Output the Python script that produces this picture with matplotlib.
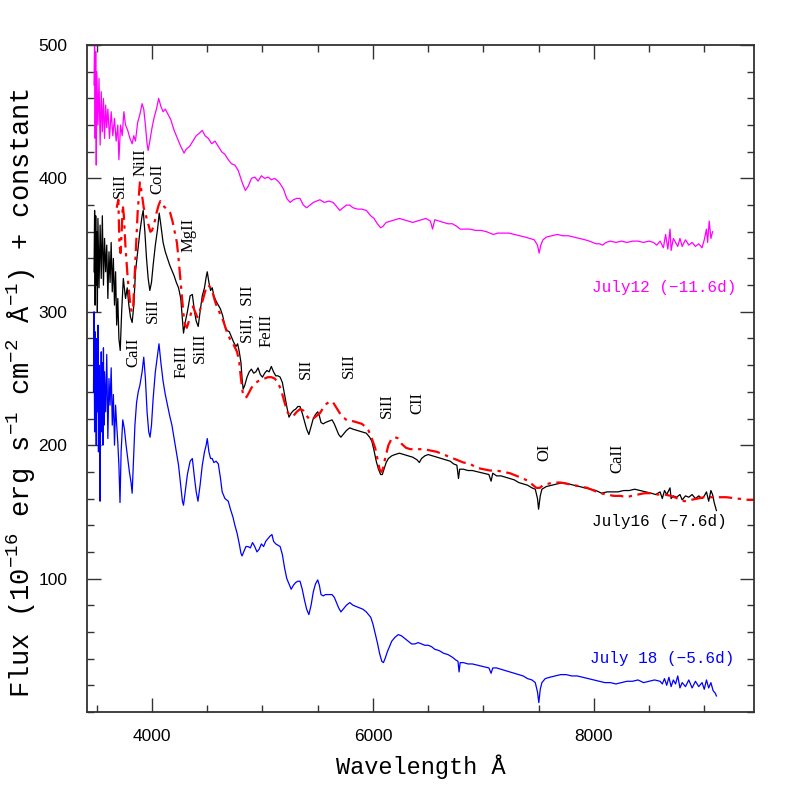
import numpy as np
import matplotlib.pyplot as plt
from matplotlib.ticker import MultipleLocator

# spectra: (wavelength in A, flux + constant)
jul12 = np.array([
    (3475, 470), (3480, 505), (3485, 430), (3490, 495), (3495, 410), (3500, 480),
    (3510, 440), (3520, 475), (3530, 425), (3540, 465), (3550, 435), (3560, 460),
    (3570, 430), (3580, 455), (3590, 438), (3600, 452), (3615, 430), (3630, 450),
    (3645, 432), (3660, 445), (3675, 428), (3690, 440), (3700, 414), (3715, 440),
    (3730, 432), (3745, 450), (3760, 440), (3780, 436), (3800, 430), (3820, 426),
    (3835, 432), (3850, 428), (3870, 442), (3890, 448), (3910, 456), (3925, 452),
    (3940, 440), (3955, 426), (3965, 421), (3980, 428), (4000, 438), (4020, 446),
    (4040, 452), (4060, 460), (4080, 454), (4100, 450), (4120, 452), (4145, 448),
    (4170, 444), (4200, 436), (4230, 430), (4260, 424), (4290, 419), (4310, 422),
    (4340, 424), (4370, 428), (4400, 432), (4430, 434), (4455, 436), (4480, 432),
    (4510, 430), (4540, 426), (4570, 428), (4600, 424), (4630, 420), (4660, 418),
    (4690, 414), (4720, 411), (4750, 410), (4780, 406), (4800, 401), (4820, 396),
    (4845, 391), (4870, 394), (4900, 400), (4930, 401), (4960, 398), (4990, 402),
    (5020, 400), (5050, 401), (5080, 399), (5110, 400), (5140, 398), (5160, 396),
    (5190, 392), (5220, 385), (5250, 382), (5280, 384), (5310, 385), (5340, 385),
    (5370, 380), (5400, 378), (5430, 380), (5460, 382), (5490, 383), (5520, 384),
    (5560, 382), (5600, 383), (5640, 382), (5670, 379), (5700, 376), (5730, 378),
    (5760, 380), (5790, 380), (5820, 378), (5860, 377), (5900, 377), (5940, 376),
    (5980, 372), (6010, 370), (6040, 366), (6070, 363), (6090, 364), (6120, 367),
    (6160, 368), (6200, 369), (6240, 370), (6280, 369), (6320, 368), (6360, 367),
    (6400, 368), (6440, 369), (6480, 370), (6520, 368), (6540, 362), (6560, 369),
    (6600, 368), (6640, 367), (6680, 366), (6720, 366), (6760, 364), (6790, 362),
    (6830, 362), (6880, 362), (6930, 361), (6980, 361), (7030, 360), (7060, 359),
    (7090, 358), (7130, 359), (7180, 359), (7230, 359), (7280, 358), (7330, 357),
    (7380, 356), (7420, 355), (7460, 354), (7490, 350), (7505, 344), (7520, 350),
    (7540, 354), (7570, 356), (7620, 357), (7670, 358), (7720, 357), (7770, 357),
    (7820, 356), (7870, 355), (7920, 354), (7960, 353), (7990, 352), (8020, 351),
    (8050, 351), (8080, 350), (8110, 352), (8150, 353), (8200, 352), (8250, 353),
    (8300, 352), (8350, 353), (8400, 353), (8450, 352), (8500, 353), (8540, 352),
    (8570, 350), (8600, 353), (8630, 348), (8650, 358), (8670, 347), (8690, 362),
    (8700, 346), (8720, 355), (8740, 352), (8760, 349), (8780, 355), (8800, 349),
    (8830, 354), (8860, 350), (8890, 352), (8920, 349), (8950, 351), (8980, 348),
    (9000, 354), (9020, 362), (9030, 352), (9045, 368), (9060, 355), (9075, 360),
])

jul16 = np.array([
    (3475, 330), (3480, 376), (3485, 305), (3490, 372), (3495, 320), (3500, 360),
    (3505, 300), (3510, 370), (3520, 318), (3530, 365), (3540, 325), (3550, 372),
    (3560, 320), (3570, 355), (3580, 330), (3590, 350), (3600, 310), (3610, 345),
    (3620, 322), (3630, 352), (3640, 315), (3650, 340), (3660, 305), (3670, 330),
    (3680, 290), (3690, 310), (3700, 280), (3712, 271), (3725, 300), (3740, 325),
    (3760, 310), (3775, 318), (3790, 305), (3805, 296), (3820, 292), (3835, 305),
    (3850, 330), (3870, 345), (3890, 360), (3910, 372), (3920, 376), (3935, 360),
    (3950, 340), (3965, 325), (3980, 316), (3995, 322), (4010, 335), (4030, 350),
    (4050, 362), (4065, 374), (4080, 365), (4100, 352), (4120, 345), (4140, 340),
    (4160, 335), (4180, 331), (4200, 327), (4220, 322), (4240, 318), (4260, 310),
    (4275, 295), (4285, 284), (4300, 292), (4320, 300), (4345, 312), (4365, 313),
    (4385, 300), (4400, 293), (4418, 289), (4435, 300), (4455, 312), (4475, 318),
    (4490, 326), (4500, 330), (4515, 322), (4530, 316), (4545, 318), (4560, 312),
    (4580, 308), (4600, 305), (4620, 302), (4640, 297), (4660, 289), (4680, 286),
    (4700, 285), (4720, 281), (4740, 277), (4760, 274), (4775, 276), (4790, 270),
    (4805, 262), (4815, 250), (4825, 242), (4840, 245), (4860, 251), (4880, 255),
    (4900, 257), (4920, 254), (4940, 255), (4960, 258), (4980, 253), (5000, 251),
    (5020, 254), (5040, 256), (5060, 255), (5080, 259), (5100, 255), (5120, 252),
    (5140, 252), (5160, 251), (5180, 247), (5200, 238), (5220, 229), (5240, 221),
    (5260, 224), (5280, 226), (5300, 227), (5320, 229), (5340, 229), (5360, 224),
    (5380, 218), (5400, 212), (5420, 208), (5440, 214), (5460, 220), (5480, 223),
    (5500, 225), (5515, 222), (5530, 217), (5550, 216), (5570, 217), (5600, 218),
    (5630, 219), (5650, 216), (5670, 212), (5690, 208), (5710, 206), (5730, 208),
    (5760, 211), (5790, 213), (5820, 212), (5860, 211), (5900, 210), (5940, 209),
    (5970, 206), (5990, 203), (6010, 196), (6030, 188), (6050, 182), (6070, 178),
    (6085, 178), (6100, 182), (6120, 187), (6140, 190), (6170, 192), (6200, 193),
    (6240, 194), (6280, 193), (6320, 192), (6360, 191), (6400, 189), (6420, 187),
    (6440, 190), (6470, 192), (6500, 193), (6540, 192), (6580, 191), (6620, 190),
    (6660, 189), (6700, 188), (6730, 186), (6760, 185), (6775, 175), (6785, 182),
    (6820, 182), (6860, 181), (6900, 181), (6950, 180), (7000, 179), (7050, 178),
    (7070, 173), (7085, 179), (7120, 177), (7160, 177), (7200, 176), (7240, 175),
    (7280, 174), (7320, 172), (7360, 171), (7400, 170), (7440, 168), (7470, 167),
    (7490, 160), (7500, 152), (7515, 162), (7530, 167), (7570, 169), (7620, 170),
    (7670, 171), (7720, 172), (7770, 171), (7820, 170), (7870, 169), (7920, 168),
    (7970, 167), (8020, 166), (8070, 164), (8120, 165), (8170, 165), (8220, 165),
    (8270, 166), (8320, 166), (8370, 167), (8420, 166), (8470, 165), (8520, 164),
    (8560, 163), (8600, 165), (8620, 160), (8640, 166), (8660, 163), (8690, 168),
    (8700, 160), (8720, 162), (8750, 161), (8780, 163), (8800, 159), (8830, 162),
    (8860, 161), (8890, 163), (8920, 160), (8950, 162), (8980, 160), (9000, 162),
    (9020, 165), (9040, 158), (9060, 166), (9075, 163), (9090, 157), (9110, 151),
])

jul18 = np.array([
    (3470, 240), (3475, 300), (3480, 210), (3485, 285), (3490, 250), (3495, 200),
    (3500, 280), (3505, 225), (3510, 290), (3515, 195), (3520, 260), (3525, 230),
    (3530, 158), (3535, 240), (3540, 270), (3545, 210), (3550, 262), (3555, 200),
    (3560, 273), (3565, 215), (3570, 255), (3580, 225), (3590, 268), (3600, 205),
    (3610, 250), (3620, 230), (3630, 258), (3640, 215), (3650, 238), (3660, 200),
    (3670, 230), (3680, 215), (3690, 202), (3700, 185), (3710, 157), (3720, 195),
    (3735, 219), (3750, 212), (3765, 200), (3780, 190), (3795, 180), (3810, 172),
    (3820, 164), (3830, 185), (3845, 215), (3860, 232), (3875, 240), (3890, 245),
    (3910, 255), (3925, 266), (3940, 250), (3955, 225), (3970, 210), (3982, 206),
    (3995, 215), (4010, 235), (4030, 255), (4050, 268), (4063, 276), (4080, 262),
    (4100, 248), (4120, 238), (4140, 230), (4160, 222), (4180, 215), (4200, 205),
    (4220, 195), (4240, 185), (4260, 170), (4275, 158), (4285, 155), (4300, 165),
    (4320, 178), (4345, 188), (4365, 190), (4385, 175), (4400, 165), (4416, 158),
    (4435, 170), (4455, 185), (4475, 195), (4490, 200), (4500, 205), (4515, 195),
    (4530, 190), (4545, 190), (4560, 187), (4580, 188), (4600, 186), (4620, 175),
    (4635, 165), (4660, 160), (4690, 158), (4710, 152), (4733, 146), (4750, 140),
    (4770, 134), (4790, 126), (4805, 119), (4815, 117), (4830, 120), (4850, 124),
    (4870, 124), (4890, 123), (4910, 127), (4930, 124), (4950, 120), (4970, 122),
    (4990, 126), (5010, 124), (5030, 128), (5050, 130), (5070, 132), (5086, 133),
    (5100, 128), (5120, 126), (5140, 125), (5160, 124), (5180, 118), (5200, 108),
    (5220, 100), (5240, 96), (5260, 92), (5280, 95), (5300, 97), (5320, 98),
    (5340, 98), (5360, 92), (5380, 84), (5400, 77), (5420, 73), (5440, 80),
    (5460, 90), (5480, 96), (5500, 99), (5515, 95), (5530, 88), (5550, 87),
    (5570, 88), (5600, 88), (5630, 88), (5650, 86), (5670, 82), (5690, 78),
    (5710, 75), (5730, 77), (5760, 80), (5790, 82), (5820, 80), (5850, 79),
    (5880, 78), (5910, 77), (5940, 75), (5960, 73), (5980, 71), (6000, 66),
    (6020, 59), (6040, 52), (6060, 44), (6080, 38), (6095, 37), (6110, 40),
    (6130, 45), (6150, 49), (6170, 53), (6200, 56), (6230, 58), (6260, 57),
    (6290, 55), (6320, 53), (6350, 51), (6380, 51), (6410, 52), (6440, 51),
    (6470, 50), (6500, 50), (6530, 49), (6560, 47), (6600, 46), (6640, 44),
    (6680, 43), (6720, 41), (6750, 39), (6770, 38), (6780, 30), (6790, 37),
    (6820, 37), (6860, 36), (6900, 36), (6950, 35), (7000, 34), (7050, 33),
    (7070, 29), (7085, 33), (7120, 33), (7160, 32), (7200, 31), (7240, 30),
    (7280, 29), (7320, 28), (7360, 27), (7400, 25), (7440, 24), (7470, 22),
    (7490, 15), (7502, 7), (7515, 17), (7530, 22), (7560, 25), (7600, 26),
    (7650, 27), (7700, 28), (7750, 28), (7800, 27), (7850, 27), (7900, 26),
    (7950, 25), (8000, 24), (8050, 23), (8100, 22), (8150, 22), (8200, 21),
    (8250, 22), (8300, 23), (8350, 23), (8400, 24), (8450, 22), (8500, 23),
    (8550, 24), (8600, 23), (8620, 21), (8640, 25), (8660, 20), (8680, 26),
    (8700, 19), (8720, 24), (8740, 21), (8760, 27), (8780, 18), (8800, 22),
    (8830, 19), (8860, 24), (8890, 18), (8920, 23), (8950, 19), (8980, 22),
    (9000, 17), (9020, 24), (9040, 18), (9060, 22), (9080, 16), (9100, 14),
    (9110, 12),
])

model = np.array([
    (3680, 378), (3695, 384), (3705, 350), (3715, 344), (3725, 360), (3735, 380),
    (3745, 372), (3760, 348), (3780, 325), (3800, 308), (3815, 300), (3830, 305),
    (3850, 340), (3870, 375), (3890, 397), (3905, 390), (3925, 378), (3945, 372),
    (3965, 366), (3985, 360), (4000, 361), (4020, 366), (4040, 374), (4060, 380),
    (4075, 383), (4095, 380), (4120, 378), (4145, 376), (4165, 374), (4185, 368),
    (4205, 360), (4225, 352), (4240, 340), (4255, 326), (4270, 312), (4285, 298),
    (4300, 290), (4315, 288), (4330, 292), (4350, 298), (4370, 304), (4390, 300),
    (4410, 296), (4430, 300), (4450, 306), (4470, 312), (4490, 318), (4510, 320),
    (4530, 318), (4550, 314), (4570, 308), (4590, 303), (4620, 298), (4650, 292),
    (4680, 284), (4710, 279), (4740, 275), (4770, 270), (4790, 262), (4805, 250),
    (4820, 240), (4835, 236), (4855, 236), (4875, 239), (4900, 243), (4930, 246),
    (4960, 248), (4990, 249), (5020, 250), (5050, 251), (5080, 251), (5110, 250),
    (5140, 247), (5170, 241), (5200, 232), (5225, 225), (5250, 222), (5280, 222),
    (5310, 225), (5340, 227), (5370, 226), (5400, 222), (5430, 219), (5460, 220),
    (5490, 222), (5520, 224), (5550, 228), (5580, 231), (5610, 233), (5640, 232),
    (5670, 228), (5700, 224), (5730, 221), (5760, 219), (5790, 218), (5820, 218),
    (5860, 217), (5900, 216), (5930, 214), (5960, 211), (5990, 205), (6020, 198),
    (6040, 190), (6060, 182), (6075, 180), (6090, 182), (6110, 190), (6140, 200),
    (6170, 205), (6200, 206), (6230, 205), (6260, 201), (6300, 198), (6340, 197),
    (6400, 197), (6460, 197), (6520, 196), (6580, 195), (6640, 193), (6700, 191),
    (6760, 189), (6820, 187), (6880, 186), (6940, 183), (7000, 182), (7060, 181),
    (7120, 181), (7180, 180), (7240, 179), (7300, 177), (7360, 175), (7410, 173),
    (7450, 170), (7480, 168), (7510, 168), (7540, 170), (7580, 171), (7640, 172),
    (7700, 172), (7760, 171), (7820, 170), (7880, 169), (7940, 168), (8000, 166),
    (8060, 164), (8120, 163), (8180, 162), (8240, 162), (8300, 161), (8340, 162),
    (8400, 163), (8460, 164), (8520, 164), (8580, 163), (8640, 163), (8700, 162),
    (8760, 160), (8820, 158), (8880, 159), (8940, 160), (9000, 161), (9100, 161),
    (9200, 161), (9300, 160), (9400, 159), (9500, 159),
])

# line identifications: (label, wavelength, flux)
line_ids = [
    ("SiII", 3710, 395), ("NiII", 3900, 412), ("CoII", 4045, 400),
    ("MgII", 4326, 358), ("CaII", 3828, 270), ("SiII", 4009, 301),
    ("FeIII", 4271, 263), ("SiIII", 4434, 273), ("SiII,  SII", 4869, 298),
    ("FeIII", 5041, 286), ("SII", 5394, 257), ("SiII", 5783, 260),
    ("SiII", 6127, 230), ("CII", 6398, 232), ("OI", 7548, 195),
    ("CaII", 8217, 190),
]

epochs = ["July12 (\u221211.6d)", "July16 (\u22127.6d)", "July 18 (\u22125.6d)"]
epoch_pos = [(9294, 318), (9204, 143), (9276, 40)]
colors = ["#ff00ff", "black", "#0000ff"]

fig = plt.figure(figsize=(7.97, 7.97), dpi=100)
ax = fig.add_axes([0.109, 0.1067, 0.837, 0.8368])

ax.plot(jul12[:, 0], jul12[:, 1], color=colors[0], lw=0.9)
ax.plot(jul18[:, 0], jul18[:, 1], color=colors[2], lw=0.9)
ax.plot(jul16[:, 0], jul16[:, 1], color=colors[1], lw=0.9)
ax.plot(model[:, 0], model[:, 1], color="#ff0000", lw=1.6,
        dashes=(6, 2.5, 1.5, 2.5))

for name, wl, fl in line_ids:
    ax.text(wl, fl, name, rotation=90, ha="center", va="center",
            fontsize=12, family="Liberation Serif")

for txt, (wl, fl), c in zip(epochs, epoch_pos, colors):
    ax.text(wl, fl, txt, ha="right", va="center", color=c,
            fontsize=11.5, family="Liberation Mono")

ax.set_xlim(3410, 9450)
ax.set_ylim(0, 500)
ax.xaxis.set_major_locator(MultipleLocator(2000))
ax.xaxis.set_minor_locator(MultipleLocator(500))
ax.set_yticks([100, 200, 300, 400, 500])
ax.yaxis.set_minor_locator(MultipleLocator(20))
ax.tick_params(which="both", direction="in", top=True, right=True,
               color="#333333", width=1)
ax.tick_params(which="major", length=10, labelsize=12.5)
ax.tick_params(which="minor", length=5)
ax.tick_params(axis="x", pad=12)
ax.tick_params(axis="y", pad=14)
for lab in ax.get_xticklabels() + ax.get_yticklabels():
    lab.set_family("Liberation Sans")
for s in ax.spines.values():
    s.set_color("#333333")
    s.set_linewidth(1.3)

ax.set_xlabel("Wavelength Å", family="Liberation Mono", fontsize=17,
              labelpad=8)
ax.set_ylabel("Flux (10$^{\\mathregular{-16}}$ erg s$^{\\mathregular{-1}}$ "
              "cm$^{\\mathregular{-2}}$ Å$^{\\mathregular{-1}}$) + constant",
              family="Liberation Mono", fontsize=19.5, va="center")
ax.yaxis.set_label_coords(-0.098, 0.478)

fig.savefig("out.png", dpi=100)
